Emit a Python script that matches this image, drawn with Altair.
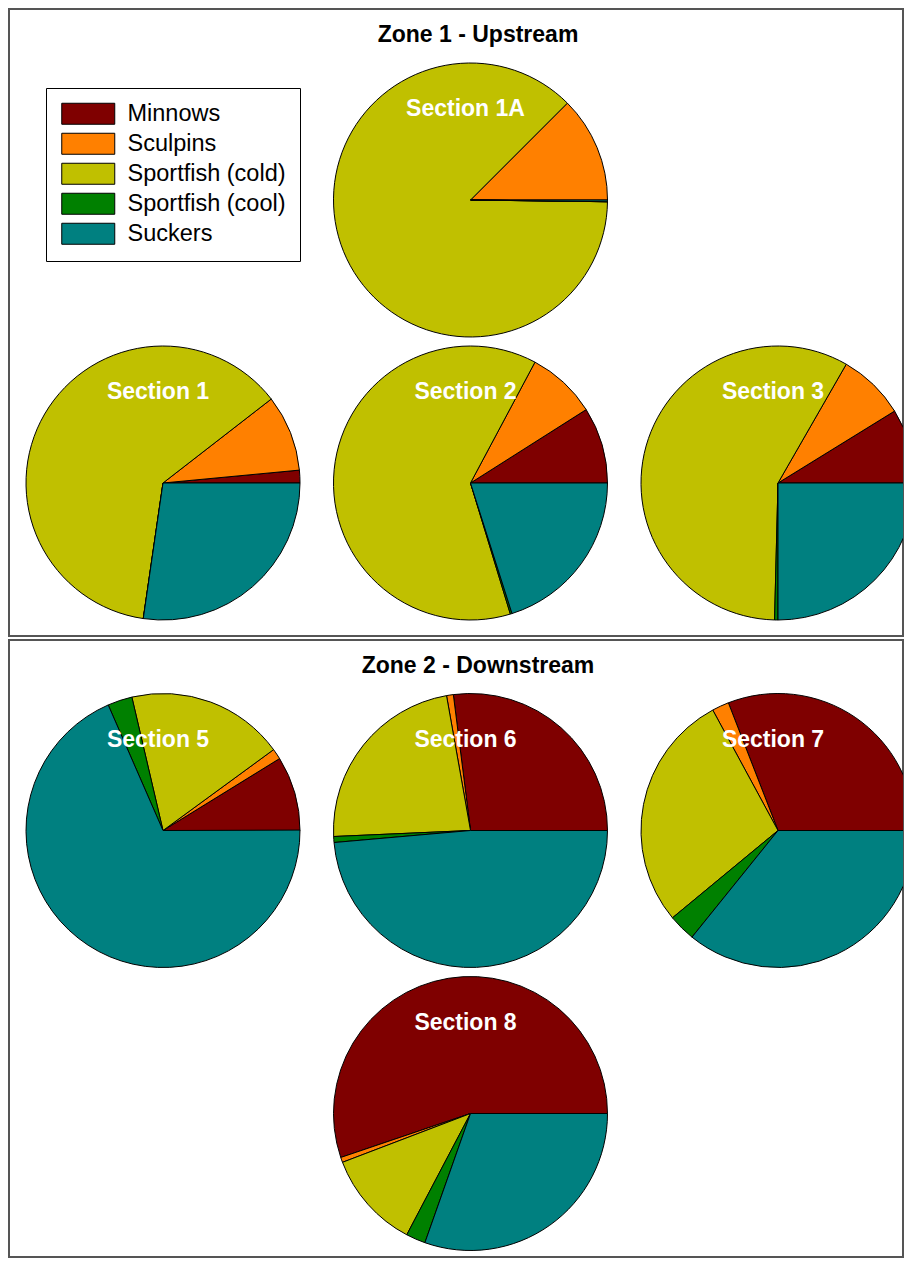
import math
import pandas as pd
import altair as alt

# ---------------- data ----------------
zones = ["Zone 1 - Upstream"] * 4 + ["Zone 2 - Downstream"] * 4
sections = ["Section 1A", "Section 1", "Section 2", "Section 3",
            "Section 5", "Section 6", "Section 7", "Section 8"]
groups = ["Minnows", "Sculpins", "Sportfish (cold)", "Sportfish (cool)", "Suckers"]

# percent of catch per section
minnows = [0.0, 1.5, 9.0, 8.8, 8.8, 27.0, 30.9, 55.2]
sculpins = [12.5, 9.0, 8.2, 7.9, 1.25, 0.8, 2.0, 0.6]
sport_cold = [87.3, 62.2, 62.5, 57.9, 18.6, 22.9, 28.1, 11.5]
sport_cool = [0.0, 0.0, 0.2, 0.4, 2.9, 0.7, 3.2, 2.3]
suckers = [0.2, 27.3, 20.1, 25.0, 68.5, 48.6, 35.8, 30.4]

colors = ["#7f0000", "#ff8000", "#c0c000", "#008000", "#008080"]

# grid slot (column, row) of each section inside its zone panel
grid_col = [1, 0, 1, 2, 0, 1, 2, 1]
grid_row = [0, 1, 1, 1, 0, 0, 0, 1]

series = [minnows, sculpins, sport_cold, sport_cool, suckers]
records = []
for i, sec in enumerate(sections):
    for k, g in enumerate(groups):
        records.append(dict(zone=zones[i], section=sec, group=g, order=k,
                            pct=series[k][i], col=grid_col[i], row=grid_row[i]))
df = pd.DataFrame(records)
labels_df = pd.DataFrame(dict(zone=zones, section=sections, col=grid_col, row=grid_row))

# ---------------- layout ----------------
FONT = "Liberation Sans"
W = 894
COLW, ROWH = 307.5, 283
X0 = 154
RADIUS = 137

x_scale = alt.Scale(domain=[-X0 / COLW, (W - X0) / COLW])
# start at 3 o'clock, run counter-clockwise
theta_scale = alt.Scale(domain=[0, 100], range=[2.5 * math.pi, 0.5 * math.pi])
color_scale = alt.Scale(domain=groups, range=colors)


def zone_chart(zone, height, y0, show_legend):
    y_scale = alt.Scale(domain=[-y0 / ROWH, (height - y0) / ROWH], reverse=True)
    if show_legend:
        legend = alt.Legend(
            title=None, orient="none", legendX=37, legendY=79,
            symbolType="M-1,-1.05 H4.3 V1.05 H-1 Z", symbolSize=400,
            symbolStrokeColor="black", symbolStrokeWidth=1, symbolOpacity=1,
            labelFont=FONT, labelFontSize=23.5, labelColor="black",
            labelOffset=44, labelLimit=400, padding=14, rowPadding=4,
            strokeColor="black", fillColor="white",
        )
    else:
        legend = None

    pies = (
        alt.Chart(df[df.zone == zone])
        .transform_window(cum="sum(pct)", groupby=["section"],
                          sort=[alt.SortField("order")])
        .transform_calculate(start="datum.cum - datum.pct")
        .mark_arc(radius=RADIUS, stroke="black", strokeWidth=1, clip=True)
        .encode(
            x=alt.X("col:Q", scale=x_scale, axis=None),
            y=alt.Y("row:Q", scale=y_scale, axis=None),
            theta=alt.Theta("start:Q", scale=theta_scale, stack=False),
            theta2="cum:Q",
            color=alt.Color("group:N", scale=color_scale, sort=groups, legend=legend),
        )
    )
    labels = (
        alt.Chart(labels_df[labels_df.zone == zone])
        .mark_text(font=FONT, fontSize=23, fontWeight="bold", color="white",
                   dy=-91, dx=-5)
        .encode(
            x=alt.X("col:Q", scale=x_scale, axis=None),
            y=alt.Y("row:Q", scale=y_scale, axis=None),
            text="section:N",
        )
    )
    return alt.layer(pies, labels).properties(
        width=W, height=height,
        title=alt.TitleParams(zone, font=FONT, fontSize=23, fontWeight="bold",
                              color="black", anchor="middle", offset=-38, dx=22),
    )


chart = (
    alt.vconcat(zone_chart(zones[0], 627, 191, True),
                zone_chart(zones[-1], 617, 190.5, False), spacing=2)
    .resolve_scale(color="independent")
    .resolve_legend(color="independent")
    .properties(padding=0, background="white")
    .configure_view(stroke="#555555", strokeWidth=2)
)

chart.save("out.html", embed_options={"renderer": "svg", "actions": False})
